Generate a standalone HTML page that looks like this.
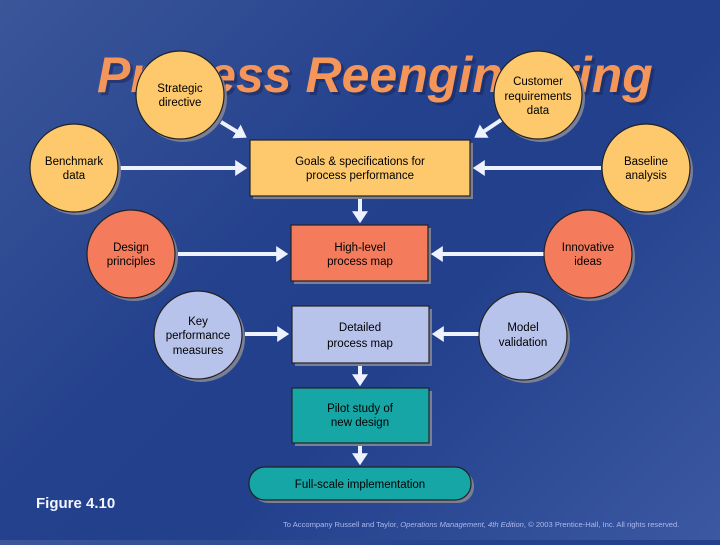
<!DOCTYPE html>
<html><head><meta charset="utf-8"><style>
html,body{margin:0;padding:0}
body{width:720px;height:540px;overflow:hidden;background:linear-gradient(135deg,#3b5699 0%,#24418d 40%,#22408c 60%,#3c58a2 100%);font-family:"Liberation Sans",sans-serif}
</style></head><body>
<svg width="720" height="540" viewBox="0 0 720 540" xmlns="http://www.w3.org/2000/svg" font-family="Liberation Sans, sans-serif">
<defs>
<marker id="a" markerWidth="4" markerHeight="4" refX="2.2" refY="2" orient="auto" markerUnits="strokeWidth"><path d="M0,0 L3,2 L0,4 z" fill="#eef2ff"/></marker>
</defs>
<text x="97" y="92" font-size="50" font-weight="bold" font-style="italic" fill="#1a2a60" opacity="0.6" transform="translate(3,3)">Process Reengineering</text>
<text x="97" y="92" font-size="50" font-weight="bold" font-style="italic" fill="#f4965a">Process Reengineering</text>
<g stroke="#eef2ff" stroke-width="4" fill="none" marker-end="url(#a)">
<line x1="221" y1="122" x2="244" y2="136"/>
<line x1="120" y1="168" x2="244" y2="168"/>
<line x1="501" y1="120" x2="477" y2="136"/>
<line x1="601" y1="168" x2="476" y2="168"/>
<line x1="360" y1="197" x2="360" y2="220"/>
<line x1="178" y1="254" x2="285" y2="254"/>
<line x1="545" y1="254" x2="434" y2="254"/>
<line x1="245" y1="334" x2="286" y2="334"/>
<line x1="480" y1="334" x2="435" y2="334"/>
<line x1="360" y1="364" x2="360" y2="383"/>
<line x1="360" y1="445" x2="360" y2="462"/>
</g>
<g stroke="#222" stroke-width="1.2">
<circle cx="183" cy="98" r="44" fill="#7a7f95" stroke="none"/><circle cx="180" cy="95" r="44" fill="#fdc96c"/>
<circle cx="541" cy="98" r="44" fill="#7a7f95" stroke="none"/><circle cx="538" cy="95" r="44" fill="#fdc96c"/>
<circle cx="77" cy="171" r="44" fill="#7a7f95" stroke="none"/><circle cx="74" cy="168" r="44" fill="#fdc96c"/>
<circle cx="649" cy="171" r="44" fill="#7a7f95" stroke="none"/><circle cx="646" cy="168" r="44" fill="#fdc96c"/>
<circle cx="134" cy="257" r="44" fill="#7a7f95" stroke="none"/><circle cx="131" cy="254" r="44" fill="#f47b5c"/>
<circle cx="591" cy="257" r="44" fill="#7a7f95" stroke="none"/><circle cx="588" cy="254" r="44" fill="#f47b5c"/>
<circle cx="201" cy="338" r="44" fill="#7a7f95" stroke="none"/><circle cx="198" cy="335" r="44" fill="#b8c3ec"/>
<circle cx="526" cy="339" r="44" fill="#7a7f95" stroke="none"/><circle cx="523" cy="336" r="44" fill="#b8c3ec"/>
<rect x="253" y="143" width="220" height="56" fill="#7a7f95" stroke="none"/><rect x="250" y="140" width="220" height="56" fill="#fdc96c"/>
<rect x="294" y="228" width="137" height="56" fill="#7a7f95" stroke="none"/><rect x="291" y="225" width="137" height="56" fill="#f47b5c"/>
<rect x="295" y="309" width="137" height="57" fill="#7a7f95" stroke="none"/><rect x="292" y="306" width="137" height="57" fill="#b8c3ec"/>
<rect x="295" y="391" width="137" height="55" fill="#7a7f95" stroke="none"/><rect x="292" y="388" width="137" height="55" fill="#17a6a6"/>
<rect x="252" y="470" width="222" height="33" rx="16" fill="#7a7f95" stroke="none"/><rect x="249" y="467" width="222" height="33" rx="16" fill="#17a6a6"/>
</g>
<g font-size="11.5" fill="#000" text-anchor="middle">
<text x="180" y="92">Strategic</text><text x="180" y="106">directive</text>
<text x="538" y="85">Customer</text><text x="538" y="100">requirements</text><text x="538" y="114">data</text>
<text x="74" y="165">Benchmark</text><text x="74" y="179">data</text>
<text x="646" y="165">Baseline</text><text x="646" y="179">analysis</text>
<text x="131" y="251">Design</text><text x="131" y="265">principles</text>
<text x="588" y="251">Innovative</text><text x="588" y="265">ideas</text>
<text x="198" y="325">Key</text><text x="198" y="339">performance</text><text x="198" y="354">measures</text>
<text x="523" y="331">Model</text><text x="523" y="346">validation</text>
<text x="360" y="165">Goals &amp; specifications for</text><text x="360" y="179">process performance</text>
<text x="360" y="251">High-level</text><text x="360" y="265">process map</text>
<text x="360" y="331">Detailed</text><text x="360" y="347">process map</text>
<text x="360" y="412">Pilot study of</text><text x="360" y="426">new design</text>
<text x="360" y="488">Full-scale implementation</text>
</g>
<text x="36" y="508" font-size="15" font-weight="bold" fill="#f2f4ff">Figure 4.10</text>
<text x="283" y="527" font-size="7.6" fill="#aab8f0">To Accompany Russell and Taylor, <tspan font-style="italic">Operations Management, 4th Edition</tspan>, © 2003 Prentice-Hall, Inc. All rights reserved.</text>
</svg>
</body></html>
